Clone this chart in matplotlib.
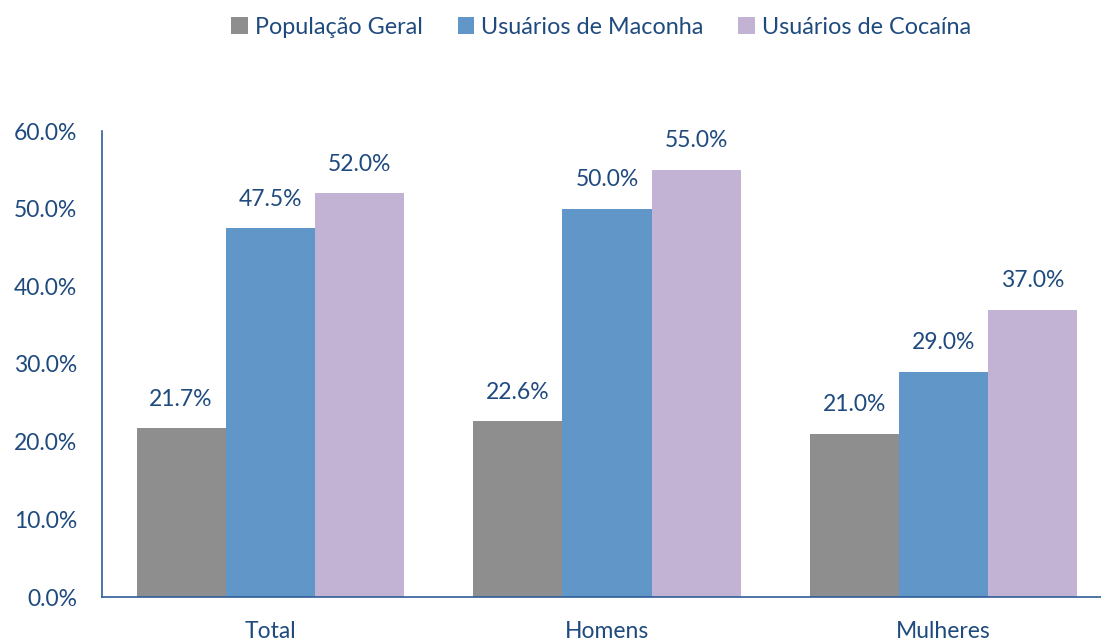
import numpy as np
import matplotlib
matplotlib.use("Agg")
import matplotlib.pyplot as plt

categories = ["Total", "Homens", "Mulheres"]
series_names = ["População Geral", "Usuários de Maconha", "Usuários de Cocaína"]
pop_geral = [21.7, 22.6, 21.0]
maconha = [47.5, 50.0, 29.0]
cocaina = [52.0, 55.0, 37.0]
yticks = [0, 10, 20, 30, 40, 50, 60]

colors = ["#8E8E8E", "#6196C9", "#C2B3D4"]
text_color = "#1F4A7E"

plt.rcParams['font.family'] = ['Lato', 'DejaVu Sans']

fig = plt.figure(figsize=(11.01, 6.42), dpi=100)
ax = fig.add_axes([102 / 1101, 1 - 597 / 642, 1010 / 1101, (597 - 131) / 642])

x = np.arange(len(categories))
width = 0.265
values = [pop_geral, maconha, cocaina]
for i, (name, vals) in enumerate(zip(series_names, values)):
    bars = ax.bar(x + (i - 1) * width, vals, width, color=colors[i], label=name)
    for b, v in zip(bars, vals):
        ax.annotate(f"{v:.1f}%", (b.get_x() + b.get_width() / 2, v),
                    xytext=(0, 29), textcoords="offset pixels",
                    ha="center", va="center", fontsize=16.5, color=text_color)

ax.set_xlim(-0.5, 2.5)
ax.set_ylim(0, 60)
ax.set_yticks(yticks)
ax.set_yticklabels([f"{t:.1f}%" for t in yticks])
ax.set_xticks(x)
ax.set_xticklabels(categories)
ax.tick_params(axis="both", length=0, labelsize=16.5, labelcolor=text_color)
ax.tick_params(axis="y", pad=18)
ax.tick_params(axis="x", pad=17)
for s in ["top", "right"]:
    ax.spines[s].set_visible(False)
for s in ["left", "bottom"]:
    ax.spines[s].set_color("#2E5E97")
    ax.spines[s].set_linewidth(1.2)

leg = fig.legend(loc="center", bbox_to_anchor=(0.546, 1 - 27 / 642), ncol=3,
                 frameon=False, fontsize=16.8, handlelength=0.7, handleheight=0.7,
                 handletextpad=0.3, columnspacing=1.5)
for t in leg.get_texts():
    t.set_color(text_color)

fig.savefig("out.png", dpi=100)
